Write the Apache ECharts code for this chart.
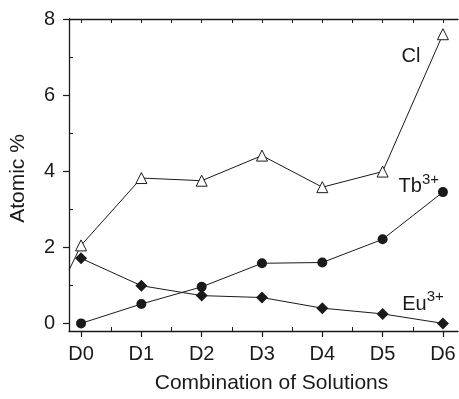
<!DOCTYPE html>
<html>
<head>
<meta charset="utf-8">
<script src="https://cdn.jsdelivr.net/npm/echarts@6/dist/echarts.min.js"></script>
<style>
html,body{margin:0;padding:0;background:#fff;}
#chart{width:459px;height:399px;}
</style>
</head>
<body>
<div id="chart"></div>
<script>
// ---- data ----
const categories = ['D0', 'D1', 'D2', 'D3', 'D4', 'D5', 'D6'];
const clValues = [2.05, 3.82, 3.75, 4.41, 3.58, 3.99, 7.60];
const tbValues = [0.00, 0.51, 0.96, 1.58, 1.60, 2.21, 3.45];
const euValues = [1.71, 0.99, 0.73, 0.68, 0.40, 0.25, 0.00];
const clLeftEdgeValue = 1.40;          // Cl line runs on to the left edge of the plot
const yTickValues = [0, 2, 4, 6, 8];
const yMinorValues = [1, 3, 5, 7];
const xTitle = 'Combination of Solutions';
const yTitle = 'Atomic %';

const xMin = -0.2, xMax = 6.25, yMin = -0.2, yMax = 8;
const catIdx = categories.map((c, i) => i);
const halfIdx = categories.slice(1).map((c, i) => i + 0.5);
const font = 'Liberation Sans, Arial, Helvetica, sans-serif';
const ink = '#1a1a1a';

const toPairs = vals => vals.map((v, i) => [i, v]);

const chart = echarts.init(document.getElementById('chart'), null, {renderer: 'canvas'});

const baseX = {type: 'value', min: xMin, max: xMax, splitLine: {show: false}};
const baseY = {type: 'value', min: yMin, max: yMax, splitLine: {show: false}};

function labelPoint(coord, rich) {
  return {
    symbol: 'circle', symbolSize: 0, silent: true,
    data: [{coord: coord, value: 0}],
    label: {show: true, position: 'inside', formatter: rich, color: ink,
      fontFamily: font,
      rich: {
        b: {fontSize: 20, fontFamily: font, color: ink},
        s: {fontSize: 15, fontFamily: font, color: ink, padding: [0, 0, 14, 0]}
      }}
  };
}

chart.setOption({
  animation: false,
  backgroundColor: '#fff',
  grid: {left: 69, right: 1, top: 19, bottom: 64, containLabel: false},
  xAxis: [
    Object.assign({}, baseX, {
      position: 'bottom',
      name: xTitle, nameLocation: 'middle', nameGap: 42,
      nameTextStyle: {fontSize: 21, fontFamily: font, color: ink, padding: [0, 0, 0, 16]},
      axisLine: {show: true, onZero: false, lineStyle: {color: ink, width: 1.3}},
      axisTick: {show: true, inside: false, length: 6, customValues: catIdx, lineStyle: {color: ink, width: 1.2}},
      axisLabel: {show: true, customValues: catIdx, margin: 13, fontSize: 20, fontFamily: font, color: ink,
        formatter: v => categories[Math.round(v)]}
    }),
    Object.assign({}, baseX, {
      position: 'bottom',
      axisLine: {show: false, onZero: false},
      axisTick: {show: true, inside: true, length: 4, customValues: halfIdx, lineStyle: {color: ink, width: 1}},
      axisLabel: {show: false}
    }),
    Object.assign({}, baseX, {
      position: 'top',
      axisLine: {show: true, onZero: false, lineStyle: {color: ink, width: 1.3}},
      axisTick: {show: true, inside: true, length: 4, customValues: catIdx.concat(halfIdx), lineStyle: {color: ink, width: 1}},
      axisLabel: {show: false}
    })
  ],
  yAxis: [
    Object.assign({}, baseY, {
      position: 'left',
      name: yTitle, nameLocation: 'middle', nameGap: 40, nameRotate: 90,
      nameTextStyle: {fontSize: 21, fontFamily: font, color: ink, padding: [0, 7, 0, 0]},
      axisLine: {show: true, onZero: false, lineStyle: {color: ink, width: 1.3}},
      axisTick: {show: true, inside: false, length: 6, customValues: yTickValues, lineStyle: {color: ink, width: 1.2}},
      axisLabel: {show: true, customValues: yTickValues, margin: 14, fontSize: 20, fontFamily: font, color: ink}
    }),
    Object.assign({}, baseY, {
      position: 'left',
      axisLine: {show: false, onZero: false},
      axisTick: {show: true, inside: true, length: 4, customValues: yMinorValues, lineStyle: {color: ink, width: 1}},
      axisLabel: {show: false}
    })
  ],
  series: [
    {
      name: 'Cl', type: 'line', xAxisIndex: 0, yAxisIndex: 0,
      data: [{value: [xMin, clLeftEdgeValue], symbol: 'none'}].concat(toPairs(clValues)),
      symbol: 'triangle', symbolSize: 11, showAllSymbol: true,
      lineStyle: {color: ink, width: 1},
      itemStyle: {color: '#fff', borderColor: ink, borderWidth: 1},
      markPoint: labelPoint([5.47, 7.02], '{b|Cl}'),
      z: 3
    },
    {
      name: 'Tb', type: 'line', xAxisIndex: 0, yAxisIndex: 0,
      data: toPairs(tbValues),
      symbol: 'circle', symbolSize: 10,
      lineStyle: {color: ink, width: 1},
      itemStyle: {color: ink, borderColor: ink, borderWidth: 0},
      markPoint: labelPoint([5.6, 3.6], '{b|Tb}{s|3+}'),
      z: 3
    },
    {
      name: 'Eu', type: 'line', xAxisIndex: 0, yAxisIndex: 0,
      data: toPairs(euValues),
      symbol: 'diamond', symbolSize: 12,
      lineStyle: {color: ink, width: 1},
      itemStyle: {color: ink, borderColor: ink, borderWidth: 0},
      markPoint: labelPoint([5.67, 0.51], '{b|Eu}{s|3+}'),
      z: 3
    }
  ]
});
</script>
</body>
</html>
